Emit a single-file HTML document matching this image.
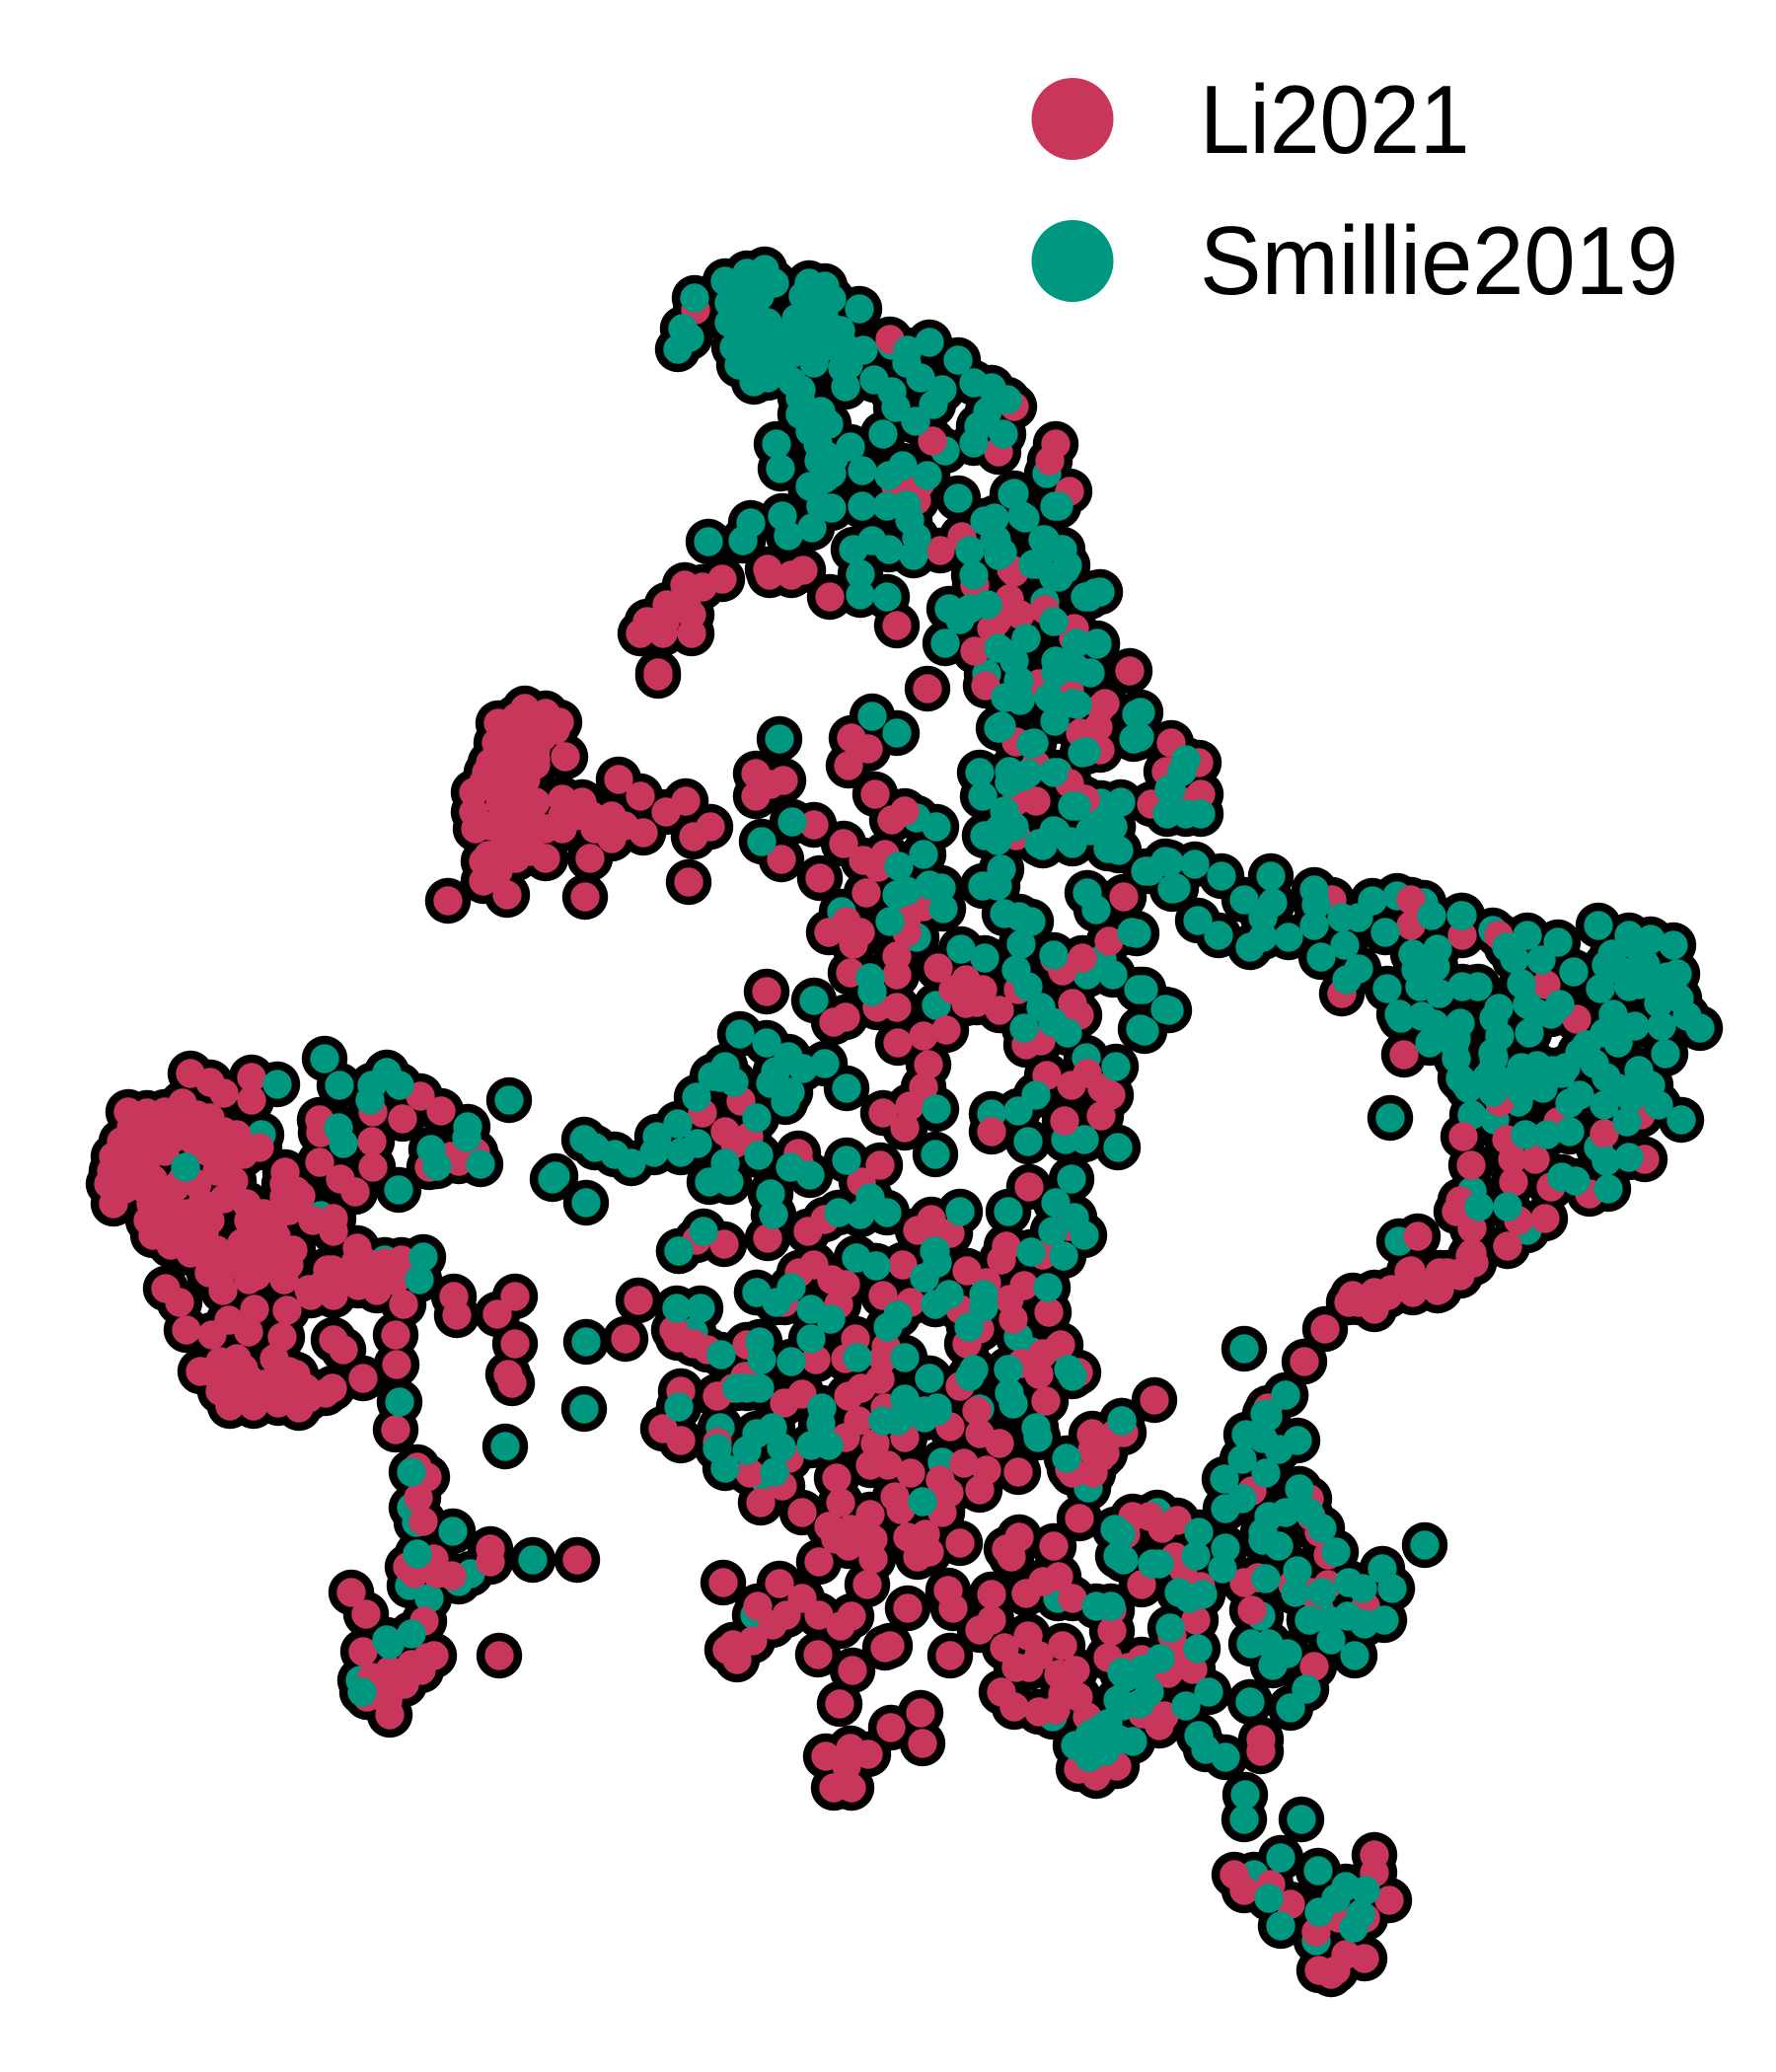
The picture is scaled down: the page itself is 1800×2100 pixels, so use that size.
<!DOCTYPE html>
<html lang="en">
<head>
<meta charset="utf-8">
<title>UMAP of cells by study</title>
<style>
html,body{margin:0;padding:0;background:#fff;width:1800px;height:2100px;overflow:hidden}
svg{display:block}
text{font-family:"Liberation Sans",Arial,sans-serif;fill:#000}
</style>
</head>
<body>
<svg id="chart" xmlns="http://www.w3.org/2000/svg" width="1800" height="2100" viewBox="0 0 1800 2100">
  <rect x="0" y="0" width="1800" height="2100" fill="#ffffff"/>
  <g id="outlines"></g>
  <g id="fills"></g>
  <g>
    <g>
      <circle cx="1087" cy="120.5" r="41.5" fill="#c8375b"/>
      <text transform="translate(1216,155) scale(0.99,1.07)" font-size="92">Li2021</text>
    </g>
    <g>
      <circle cx="1087" cy="264.5" r="41.5" fill="#009781"/>
      <text transform="translate(1216,298) scale(1.02,1.07)" font-size="92">Smillie2019</text>
    </g>
  </g>
</svg>
<script>
const seriesColors = ["#c8375b", "#009781"];

const smillieUnder = [[9.04,3.5],[9.58,4.57],[10.61,4.8],[10.59,6.1],[10,6.83],[9.29,8.29],[9.29,9.5],[8.53,9.24],[9.49,10.19],[11.02,9.88],[11.28,9.88],[11.17,9.72],[10.72,7.83],[11.1,8.15],[10.05,11.29],[11.01,10.72],[10.8,11.55],[10.99,11.55],
[2.65,11.5],[3.25,12.32],[3.9,12.77],[7.65,16.37],[7.03,13.5],[7.3,14.47],[7.77,15.03],[9.55,14.82],[10.32,13.55],[10.45,13.7],[10.73,13.65],[9.93,14.28],[11.03,15.08],
[13.03,14.14],[13.27,16.42],[12.78,16.38],[13.05,16.76],[11.41,17],[11.73,15.33],[12.71,19],[13.34,19.67],[10.72,16.2],[10.67,17.4],[4.17,15.28],[4.22,15.43],[4.15,16.07],[4.65,16.03],[4.77,15.95],[4.35,16.2],[3.65,17.03],
[12.88,8.88],[14.16,9.08],[14.43,9.15],[15.13,9.43],[14.92,11.3],[15.15,11.35],[15.39,11.17],[16.2,11.63],[14.92,12.07],[15.28,12.23],[15.48,12.47],[14.18,12.58],[11.16,8.14]];

const li2021 = [[7.05,3.14],[9.02,3.44],[9.45,4.47],[10.28,4.12],[10.12,4.58],[10.7,4.5],[10.64,4.67],[10.84,4.98],[9.29,5.07],[9.08,4.93],[9.33,4.9],[9.53,5.58],[9.75,5.44],[9.88,5.93],[10.28,5.8],[10.23,6.07],[10.59,6.18],[10.1,6.3],[10.34,6.23],[10.05,6.37],[10.89,6.37],[10.88,6.47],[9.88,6.6],[9.99,6.95],[11.45,6.8],[10.55,6.97],[10.84,7],[11.2,7.13],[9.4,6.98],
[7.32,5.87],[7.12,5.95],[6.94,5.93],[6.76,6.13],[6.96,6.13],[6.56,6.3],[6.74,6.3],[6.49,6.42],[6.72,6.42],[7.01,6.42],[7.01,6.23],[6.67,6.82],[7.78,5.77],[7.8,5.83],[8.02,5.83],[8.14,5.78],[8.41,6.05],[9.09,6.34],
[10.25,5.77],[10.53,6.93],[10.77,7],[11.16,7.17],[11.13,7.37],[10.95,7.43],[11.15,7.6],[10.3,7.52],[10.5,7.75],[10.84,7.94],[10.3,8.12],[10.5,8.12],[11,8.1],[10.3,8.47],[11.87,7.53],[12.15,7.73],[11.82,7.82],[12.17,8.05],[11.97,8.12],[11.67,8.15],
[7.66,7.84],[7.94,7.91],[7.66,8.07],[7.81,7.95],[8.63,7.48],[8.8,7.59],[8.6,7.76],[8.87,8.05],[9.04,8.31],[9.17,8.22],[8.25,8.36],[7.92,8.71],[8.31,8.9],[8.55,8.55],[8.75,8.72],[8.97,8.66],[8.9,8.79],[8.78,9.05],[9.19,9.31],[9.36,9.19],[9.19,9.45],[8.58,9.34],[8.4,9.45],[8.72,9.45],[8.65,9.57],[9.09,9.69],[9.09,9.88],[8.62,9.86],[8.89,10.21],[9.09,10.21],[7.77,10.05],[8.45,10.36],[8.57,10.31],[9.1,10.57],[9.36,10.5],[9.59,10.44],
[9.51,9.81],[9.79,9.93],[9.66,10.03],[9.96,10.03],[9.9,10.16],[10.13,10.24],[9.79,10.17],[11.39,9.09],[11.24,9.54],[10.69,9.72],[10.97,9.71],[10.77,9.84],[10.87,10.17],[10.94,10.29],[10.32,10.03],[10.55,10.55],[10.4,10.59],
[7.51,11.16],[7.12,11.28],[7.35,11.47],[7.59,11.52],[7.45,11.59],[8.95,11.28],[9.22,11.21],[9.17,11.43],[9.36,11.02],[9.41,10.79],[8.92,11.81],[8.73,11.98],[8.36,12.36],
[10.05,11.47],[10.61,10.9],[10.86,11],[11.02,10.88],[11.17,11.03],[11.26,11.1],[11.16,11.31],[10.79,11.36],[10.43,12.03],[8.09,11.69],[8.11,11.81],[9.44,12.36],
[7.06,12.57],[7.34,12.61],[6.47,13.18],[6.34,13.57],[6.87,13.56],[7.78,12.55],[8.19,12.48],[8.25,12.82],[8.43,12.97],[8.57,13.02],[9.15,12.82],[8.95,13.13],[9.23,13.2],[9.48,13.22],[9.73,13.27],[8.5,13.22],[8.1,12.9],[7.95,13.2],[10,13],[9.8,12.88],[10.15,12.77],[10.57,12.72],[10.83,12.43],[9.47,12.47],[9.3,12.47],[9.63,12.5],[10.38,13.03],[10.2,12.63],[10.57,13.72],[10.23,13.17],[10.27,13.37],[10.63,13.3],
[9.93,13.47],[9.8,13.62],[10.75,13.63],[10.93,13.91],[10.35,13.82],[10.53,13.93],[9.73,14.05],[10.6,14.2],[9.9,14.3],[9.93,14.53],[10.13,14.63],[9.63,14.46],
[10,14.9],[9.93,15.1],[10.32,14.92],[9.77,14.83],[9.53,15],[9.62,15.13],[9.55,15.33],[9.07,15.17],[9.13,15.3],[9.23,14.93],[9,14.85],[8.82,14.85],[9.2,15.58],[9.38,15.55],[9.42,15.73],[9.3,15.78],[9.73,15.64],
[8.87,14.63],[8.57,14.57],[8.98,13.65],[8.95,13.77],[8.6,14.15],[8.73,14.07],[8.92,13.98],[8.7,14.4],[9.17,14.57],[8.97,14.27],[8.57,13.77],[8.67,13.57],[8.27,13.78],[7.57,13.63],[6.83,13.48],[7.03,13.62],[7.17,13.68],[7.55,13.95],[7.43,14.07],[7.27,14.15],[7.95,14.22],[8.13,14.13],[6.9,14.1],[6.72,14.48],[6.9,14.6],[7.27,14.62],[7.6,14.93],[7.93,15.06],[7.71,15.23],[8,14.78],
[8.48,14.98],[8.52,15.23],[8.13,15.33],[8.82,15.35],[8.4,15.47],[8.62,15.5],[8.85,15.6],[8.3,15.83],[8.6,15.67],[8.85,15.8],[8.79,16.06],[8.47,15.6],
[10.2,15.7],[10.33,15.58],[10.25,15.78],[10.68,15.67],[10.94,15.39],[10.87,14.93],[11.07,14.53],[11.07,14.7],[11.2,14.73],[11.08,14.93],[11.3,14.53],
[7.33,16.04],[7.9,16.05],[7.68,16.28],[8.13,16.2],[8.3,16.37],[7.97,16.37],[7.83,16.47],[8.52,16.48],[8.63,16.38],[7.63,16.63],[7.43,16.67],[7.37,16.72],[7.47,16.82],[8.29,16.77],[8.64,16.93],[8.51,17.27],[8.97,16.7],[9.02,16.68],[9.2,16.3],[9.61,16.12],[9.66,16.3],[10.05,16.16],[10.05,16.42],[9.93,16.52],[9.63,16.78],
[9.33,17.36],[9.35,17.67],[9.03,17.51],[8.37,17.8],[8.62,17.72],[8.8,17.78],[8.58,17.9],[8.45,18.12],[8.63,18.12],
[10.4,16.15],[10.57,16.03],[10.73,15.98],[10.87,16.2],[10.18,16.7],[10.42,16.58],[10.53,16.78],[10.3,16.9],[10.43,16.9],[10.77,16.68],[10.9,16.93],[10.73,16.97],[10.15,17.15],[10.28,17.3],[10.53,17.35],[10.7,17.33],[10.77,17.17],[10.93,17.2],[11.02,17.4],[11.27,16.53],[11.23,16.8],[10.93,17.93],[11.11,18],[11.32,17.9],
[14.3,9.12],[13.5,9.12],[13.6,10.07],[14.3,9.38],[14.82,9.48],[15.19,9.48],[15.67,9.98],[15.98,10.33],[14.23,10.69],[15.2,11.17],[15.79,11.37],[16.63,11.3],
[14.83,11.52],[14.91,11.81],[15.27,11.55],[15.33,11.75],[15.56,11.75],[15.34,11.98],[15.72,12.03],[16.26,11.49],[16.67,11.75],[16.11,12.1],
[14.8,12.17],[14.76,12.28],[15.39,12.37],[15.66,12.35],[14.92,12.45],[15.28,12.63],[14.92,12.7],[14.94,12.8],[14.8,12.9],[14.59,12.9],[14.3,12.88],[14.59,13.07],[14.1,13.07],[13.93,13.1],[13.71,13.13],[14.35,13.03],[14.37,12.53],
[13.67,13.2],[13.77,13.2],[13.93,13.27],[14.07,13.13],[14.28,12.89],[14.32,13.1],[14.57,13.08],[14.67,12.9],[14.8,12.93],[14.9,12.73],[13.43,13.47],[13.22,13.8],[11.7,14.19],[12.85,14.27],[12.69,15.11],[13.37,15.53],[13.37,16.3],[13.29,16.14],
[13.29,15.37],[13.46,15.76],[13.27,15.19],[13.32,16.89],[11.84,16.96],[12.12,16.42],[12.02,16.76],[12.09,16.92],[11.88,16.58],[11.27,16.32],[11.57,16.82],[11.8,17.39],[11.75,17.49],[11.58,17.37],[11.44,16.9],[11.9,16.9],
[11.39,14.52],[11.06,14.54],[11.16,14.77],[11.07,14.91],[10.84,14.89],[11.41,15.55],[11.48,15.37],[11.65,15.37],[11.78,15.49],[11.93,15.41],[11.57,16.06],[11.99,15.9],[12.17,16.08],[11.91,15.78],
[12.75,15.99],[12.61,16.04],[13.46,16.06],[13.84,16.28],[12.69,16.32],[13.1,16.06],[12.78,17.63],[12.78,17.75],[12.51,19],[12.61,19.16],[12.88,19.1],[13.08,19.3],[13.57,19.44],[13.93,18.8],[13.93,18.98],[14.08,19.26],[13.84,19.44],[13.34,19.58],[13.64,19.81],[13.83,19.85],[13.37,19.97],[13.49,20.01],[13.54,19.97],
[1.93,10.88],[2.13,10.97],[2.27,11.08],[2.55,10.92],[2.55,11.15],[3.78,11.27],[4.08,11.34],[4.26,11.11],[4.47,11.26],[4.82,11.68],[4.65,11.77],[4.35,11.83],[4.57,11.72],[3.24,11.35],[3.25,11.48],[3.77,11.57],[3.24,11.78],[3.45,11.95],[3.78,11.83],[3.6,12.08],
[1.49,11.28],[1.85,11.18],[1.33,11.43],[1.63,11.43],[1.9,11.37],[2.13,11.33],[1.15,11.72],[1.4,11.65],[1.67,11.67],[1.97,11.57],[2.27,11.47],[1.1,12],[1.37,11.87],[1.15,12.2],[1.43,12.03],[1.78,12.03],[2.1,11.67],[2.33,11.67],[2.63,11.63],[2.2,11.87],[2.37,11.97],[2.27,12.15],[2.5,12.2],[1.53,12.2],[1.5,12.37],[1.55,12.52],[1.73,12.23],[1.77,12.43],[1.97,12.37],[2.07,12.5],[1.73,12.62],[1.93,12.7],[2.1,12.7],[2.12,12.9],[2.3,12.8],[2.47,12.8],[2.52,12.37],[2.67,12.3],[2.45,12.6],[2.67,12.53],[2.83,12.63],[2.77,12.83],[2.93,12.82],[2.88,12.97],[2.52,12.97],[2.26,13.08],
[2.89,11.88],[2.88,12.13],[3.05,12.12],[2.87,12.28],[3.17,12.37],[3.38,12.35],[3.38,12.48],
[1.68,13.06],[1.82,13.2],[1.89,13.48],[2.15,13.53],[2.32,13.38],[2.52,13.5],[2.58,13.27],[2.91,13.28],[2.86,13.55],[2.78,13.77],[2.03,13.9],[2.23,13.8],[2.4,13.77],[2.23,14.1],[2.53,13.98],[2.33,14.25],[2.57,14.25],[2.82,14.22],[3.03,14.27],[2.8,14],[3,13.93],[3.1,14.07],[3.3,14.12],[3.37,14.07],
[3.32,12.87],[3.27,13.02],[3.15,13.13],[3.38,13.13],[3.6,13],[3.62,12.65],[3.72,12.8],[3.82,13.08],[4,12.98],[4.07,12.77],[4.09,13.22],[4.01,13.53],[4.02,13.83],[4.01,14.49],[3.68,13.97],[3.38,13.58],[3.48,13.68],
[4.6,13.14],[4.63,13.33],[5.22,13.14],[5.04,13.32],[5.22,13.62],[5.15,13.93],[5.19,14.02],
[4.23,14.87],[4.33,14.97],[4.28,14.98],[4.24,15.18],[4.29,15.42],[4.97,15.7],[4.97,15.83],[5.85,15.81],[4.4,15.8],[4.13,15.88],[4.2,15.95],[4.43,15.95],[4.58,15.97],[4.3,16.43],[3.56,16.14],[3.71,16.36],[3.68,16.74],[3.77,17],[3.72,17.2],[3.95,16.93],[4.17,16.87],[4.33,16.8],[4.4,16.78],[4.27,16.93],[3.97,17.13],[4.1,17.07],[3.95,17.38],[3.93,17.25],[5.06,16.78],
[5.32,7.18],[5.05,7.33],[5.53,7.23],[5.67,7.32],[5.03,7.53],[5.3,7.4],[5.5,7.47],[5.73,7.67],[5.43,7.7],[4.93,7.83],[4.8,8.03],[5.1,7.9],[5.33,7.9],[4.8,8.23],[4.82,8.4],[5.07,8.13],[5.3,8.17],[5.07,8.37],[5.4,8.33],[5.7,8.1],[5.7,8.4],[5.53,8.4],[4.95,8.67],[5.13,8.6],[5.37,8.63],[5.53,8.7],[4.9,8.93],[5.05,8.83],[5.14,9.07],[4.54,9.13],[5.98,8.7],[5.93,9.09],[6.27,7.9],[6.49,8.07],[5.9,8.13],[6,8.27],[6.2,8.27],[6.33,8.37],[6.52,8.44],[6.2,8.5],[6.03,8.4],[6.75,8.23],[6.95,8.12],[7.2,8.38],[7.03,8.48],[6.98,8.94],[6.67,6.85],
[4.97,7.73],[4.9,7.93],[5.2,8],[5.2,8.2],[4.97,8.37],[5.23,8.47],[5.37,8.53],[5.43,8.13],[5.7,8.27],[5.83,8.27],[6.13,8.4],[5.43,7.6],[5.23,7.27],[5.17,7.43],[5.63,7.4],[5.07,8.63],[4.9,8.73],[5.23,8.7],[5.43,7.75],[5.27,7.6],[5.15,7.62],[5.2,7.78],
[1.23,11.57],[1.47,11.53],[1.77,11.53],[1.93,11.5],[1.23,11.87],[1.5,11.73],[1.13,11.87],[1.3,11.27],[1.67,11.27],[2,11.3],[2.2,11.53],[2.4,11.5],[2.47,11.7],[2.27,11.77],[1.57,12.2],[1.9,12.3],[2.13,12.37],[1.63,12.4],[1.9,12.53],[2.2,12.67],[2.23,12.93],[2.4,12.73],[2.6,12.57],[2.8,12.53],[2.6,12.4],[2.8,12.33],[2.93,12.27],[3,12.07],[2.88,12],[2.6,12.93],[2.73,12.73],[2.97,12.67],[3.13,13.07],[3.3,13.07],[3.47,13],[3.63,13.03],[3.8,13],[3.93,12.93],[3.9,12.8],[3.6,12.8],[3.37,12.87],[1.85,11.95],[2,12],[1.55,11.95],[1.27,12.05],[2.05,12.2],
[2.13,13.9],[2.3,13.93],[2.47,13.87],[2.67,14.03],[2.4,14.1],[2.73,14.13],[2.93,14.1],[3.13,14.17],[2.93,13.9]];

const smillieOver = [[7.04,3.02],[6.92,3.33],[6.99,3.42],[6.87,3.54],[7.35,2.85],[7.57,2.77],[7.75,2.73],[7.85,2.87],[7.64,2.93],[7.39,3.07],[7.39,3.27],[7.64,3.17],[7.78,3.27],[7.44,3.52],[7.49,3.7],[7.64,3.5],[7.64,3.87],[7.78,3.83],[7.75,3.57],[7.89,3.5],
[7.45,3],[7.55,3.3],[7.7,3],[7.5,3.4],[7.7,3.7],[7.85,3.7],[8,3.6],[8.15,3.55],[8.3,3.55],[8.4,3.3],[8.1,3.4],[8.35,3.15],[8.55,3.5],[8.6,3.7],[8.75,3.55],[8.12,3.95],[8.25,4.3],[8.4,4.3],[8.35,4.6],[8.45,4.65],[7.55,3.55],[7.65,3.35],
[8.2,2.87],[8.36,2.9],[8.43,3.03],[8.14,3],[8.07,3.23],[8.23,3.23],[8,3.4],[8.21,3.43],[8.52,3.35],[8.65,3.57],[8.5,3.53],[8.25,3.68],[8.54,3.73],[8.57,3.92],[8.03,3.87],[8.11,4.03],[8.32,4.17],[8.11,4.2],[8.21,4.37],[8.29,4.5],[8.3,4.67],[8.43,4.8],[8.36,4.85],[8.21,4.93],[7.87,4.5],[7.91,4.75],[8.71,3.13],
[9.42,3.47],[9.2,3.55],[9.71,3.65],[9.19,3.68],[9.33,3.83],[9.55,3.95],[8.86,3.85],[9.04,3.97],[9.46,4.1],[9.08,4.13],[9.28,4.27],[8.95,4.4],[9.87,3.88],[10.05,3.93],[10.21,4.05],[10.01,4.17],[9.92,4.32],[10.17,4.4],[9.87,4.49],[8.62,4.53],[8.74,4.77],[9.01,4.82],[9.15,4.72],[9.4,4.82],
[10.73,5.13],[10.28,5],[9.71,5.05],[10.39,5.25],[10.08,5.25],[9.98,5.28],[8.43,5.15],[8.32,5.13],[8.74,5.13],[8.99,5.13],[9.19,5.12],[9.22,5.27],[8.23,5.35],[7.93,5.23],[7.99,5.43],[7.61,5.3],[7.53,5.48],[7.18,5.49],
[8.65,5.57],[8.84,5.48],[9.01,5.57],[9.29,5.45],[9.26,5.63],[8.72,5.82],[8.72,6.03],[8.99,6.05],[9.62,6.17],[9.83,6.17],[9.73,6.28],[9.58,6.52],[10.01,6.13],[9.83,5.58],[10.1,5.47],[10.16,5.6],[9.87,5.83],[10.59,5.47],[10.77,5.57],[10.52,5.72],[10.82,5.73],[10.73,5.85],[11.04,6.05],[11.15,6],[10.12,6.57],[10.26,6.63],[10.32,6.9],[10.19,7.07],[10.34,7.1],
[10.26,5.01],[10.69,5.13],[11.36,8.13],[11.28,8.38],
[10.36,5.23],[10.08,5.47],[10.12,5.63],[10.57,5.47],[10.75,5.57],[10.47,5.72],[10.8,5.77],[10.68,5.85],[11,6.05],[11.1,6.01],[10.68,6.3],[10.91,6.52],[11.12,6.53],[10.7,6.7],[10.7,6.82],[11.05,6.82],[10.9,6.77],[11.12,6.52],[10.63,7.07],[10.88,7.13],[11.52,7.24],[11.49,7.49],
[10.4,6.47],[10.28,6.7],[10.33,6.9],[10.13,7.38],[10.45,7.54],[10.97,7.63],[10.68,7.83],[10.12,7.38],[10.23,7.82],[10.37,7.87],[10.23,7.93],[10.87,8.17],[11.23,8.38],[10.68,8.42],[10.53,8.55],[10.85,8.53],[11.28,8.6],[11.23,8.6],[10.13,8.4],[11.05,8.42],
[12.02,7.7],[11.98,7.82],[11.87,8],[11.83,8.25],[12.17,8.25],
[7.9,7.49],[8.84,7.26],[9.09,7.43],[8.03,8.33],[7.72,8.53],[9.49,8.38],[9.11,8.78],[9.36,8.66],[9.42,8.97],[9.19,9.03],[9.09,9.07],[9.54,9],[9.56,9.21],[9.02,9.34],[8.82,9.91],[8.84,10.05],[8.25,10.14],[9.74,9.62],[9.98,9.71],
[9.93,7.83],[9.96,8.07],[10.15,7.36],[10.69,7.31],[10.48,7.53],[10.92,7.14],[11.01,7.62],[11.56,7.22],[11.55,7.47],[10.27,7.9],[10.42,7.84],[10.91,8.17],[10.18,8.22],[10.15,8.38],[9.98,8.47],[10.11,8.52],[10.28,8.38],[10.7,8.43],[10.57,8.57],[10.87,8.55],[11.28,8.38],[11.34,8.62],[10.15,8.81],[9.96,8.98],[10.11,8.98],[11.65,8.83],[11.85,8.74],[11.92,9],
[11.02,9.05],[11.11,9.22],[11.52,9.46],[10.35,9.57],[10.33,9.29],[10.18,9.26],[10.45,9.34],[10.3,9.83],[10.42,10],[10.55,10.21],[10.38,10.42],[10.82,10.47],[10.67,10.36],[11.59,10.03],[11.85,10.24],[11.6,10.45],
[7.5,10.48],[7.77,10.57],[7.99,10.71],[8.14,10.83],[8.36,10.78],[8.58,11.03],[7.35,10.81],[7.22,10.91],[7.44,10.97],[7.86,10.86],[7.81,10.98],[8.01,11.07],[7.96,11.17],[7.67,11.33],[7.07,11.59],[9.49,11.24],[9.48,11.7],[10.32,11.26],[10.5,11.1],[10.42,11.57],[11.31,10.81],[11.33,11.63],
[10.86,11.95],[10.7,12.19],[10.89,12.34],[9.73,12.28],[10.22,12.28],[8.58,11.76],[8.82,12.14],[8.5,12.29],[8.72,12.31],[8.99,12.29],[8.01,11.83],[8.21,11.91],[7.81,12.1],[7.84,12.31],[7.39,11.98],[7.35,11.79],[7.69,11.71],[7.19,11.98],
[5.63,11.92],[5.92,11.55],[6.03,11.63],[5.94,12.19],[6.23,11.7],[6.4,11.79],[6.63,11.68],[6.66,11.52],[6.87,11.39],[7.06,11.12],[7.3,10.92],[6.9,11.68],
[6.88,12.68],[7.13,12.48],[7.67,13.1],[7.87,13.2],[8.02,13.05],[8.22,13.27],[8.42,13.37],[8.68,12.75],[8.88,12.83],[9.47,12.68],[9.5,12.8],[9.37,12.95],[9.48,13.22],[9.62,13.12],[9.0,13.45],[9.1,13.33],[9.97,13.25],[9.82,13.45],
[10.45,12.69],[10.78,12.73],[10.67,12.48],[10.99,12.52],[10.62,13.05],[10.22,13.88],[10.23,14.12],[10.27,14.23],[10.5,14.47],[10.52,14.57],[9.87,13.88],[9.83,13.95],
[8.69,13.76],[8.22,13.57],[8.02,13.8],[7.7,13.6],[7.72,13.78],[7.31,13.73],[6.88,14.26],[7.47,14.07],[7.57,14.07],[7.7,14.07],[7.83,14.47],[7.67,14.53],[7.27,14.68],[7.57,14.7],[7.92,14.67],[7.35,14.88],[8.33,14.27],[8.32,14.43],[8.22,14.65],[8.4,14.65],[7.85,14.92],[9.35,15.22],
[9.17,14.18],[9.42,13.97],[8.95,14.4],[9.1,14.4],[9.27,14.3],[9.5,14.27],[9.37,14.37],[10.81,14.78],[11.37,14.4],[11.3,15.5],[11.33,15.77],
[12.61,13.67],[13.27,16.42],[14.09,11.33],
[11.61,8.83],[11.81,8.73],[12.11,8.76],[11.88,9.01],[12.38,8.88],[12.61,9.12],[12.9,9.15],[12.8,9.3],[13.06,9.5],[12.14,9.33],[12.35,9.48],[12.67,9.6],[12.8,9.5],[13.39,9.7],[13.32,9.02],[13.34,9.17],[13.32,9.38],[13.6,9.3],[13.77,9.3],[13.91,9.13],[14.51,9.28],[14.81,9.28],[14.82,9.28],[15.48,9.48],[15.79,9.55],[14.04,9.45],[13.63,9.58],[13.77,9.82],[13.65,9.93],
[14.32,9.67],[14.57,9.62],[14.35,9.83],[14.55,9.8],[14.06,10.02],[14.39,10],[14.59,10.07],[14.82,10],[14.98,10],[14.18,10.28],[14.41,10.3],[14.8,10.37],[14.49,10.57],[14.76,10.53],[14.76,10.73],[14.84,10.97],[14.88,11.03],[15.11,10.87],[15.13,10.67],[15.2,10.5],[15.19,10.22],[15.35,9.72],[15.27,9.6],[15.42,9.97],[15.58,10.27],[15.72,10.28],[15.5,10.47],[15.62,9.73],
[14.2,10.32],[14.54,10.38],[14.74,10.59],[15.07,10.92],[15.41,10.99],[15.74,10.85],[16.08,10.59],[16.41,10.38],[16.61,9.98],[16.28,9.78],[16.68,9.78],[15.81,10.18],[15.48,10.18],[15.14,10.32],[15.14,10.72],
[15.95,9.85],[16.2,9.38],[16.51,9.48],[16.73,9.52],[16.96,9.58],[16.34,9.67],[16.65,9.73],[17,9.87],[16.22,10.02],[16.51,10],[16.77,9.93],[17.02,10.12],[16.81,10.17],[17.23,10.42],[16.84,10.4],[16.57,10.4],[16.26,10.47],[16.35,10.28],[16.88,10.68],[16.01,10.67],[16.4,10.57],[15.87,10.82],[16.16,10.78],[16.28,10.92],[16.61,10.85],[16.73,11],[16.4,11.03],[16.01,11.1],[16.26,11.2],[16.81,11.2],[17.04,11.35],[16.53,11.13],[16.49,11.37],[17,10.1],[17.1,10.3],[16.6,9.6],[16.9,9.9],[16.45,9.85],
[15.42,10.82],[15.58,10.8],[15.42,11.07],[15.64,11.03],[15.91,11.18],[15.83,10.88],[14.8,10.93],[15.17,10.93],[15.13,11.07],[15.46,11.5],[15.68,11.5],[15.91,11.47],[16.28,11.77],[16.51,11.73],[16.3,12.05],[15.97,11.97],[15.83,11.93],[14.99,12.23],[15.28,12.23],
[11.47,9.45],[11.54,10.03],[11.81,10.23],[11.56,10.43],[11.85,8.0],[12.02,8.25],[10.68,9.68],
[13.03,14.14],[12.85,14.36],[12.82,14.33],[13.15,14.6],[12.63,14.54],[12.8,14.58],[12.59,14.79],[12.96,14.69],[12.83,14.93],[12.41,14.99],[12.42,15.29],[12.59,15.19],[13.17,15.09],[12.86,15.37],[12.8,15.53],[13.03,15.33],[13.27,15.33],[13.4,15.49],[13.54,15.73],[12.96,15.67],[12.8,15.61],
[12.42,15.69],[12.39,15.9],[12.15,15.53],[12.12,15.77],[12.83,16],[13.15,15.92],[13.13,16.14],[13.4,16.14],[13.67,16.04],[13.81,16.1],[14.01,15.9],[14.11,16.1],[13.47,16.42],[13.66,16.38],[13.83,16.46],[14.03,16.42],[13.49,16.62],[13.73,16.78],[14.44,15.66],
[12.68,16.66],[12.86,16.66],[12.9,16.88],[12.67,17.25],[13.24,17.12],[13.08,17.31],[12.15,17.59],[12.22,17.73],[12.42,17.81],[12.62,18.19],
[12.02,17.29],[12.25,17.15],[11.65,17.15],[11.55,17.27],[11.38,17.29],[11.58,16.92],[11.76,16.81],[11.86,16.5],[12.14,16.71],[11.68,15.85],[11.75,15.85],[11.39,15.81],[11.36,15.55],[12.05,16.2],[12.19,16.16],[11.95,16.14],[11.11,16.28],[11.26,16.28],
[10.9,17.69],[11.04,17.59],[11.17,17.51],[11.34,17.63],[11.48,17.65],[11.04,17.81],[11.02,17.63],[11.23,17.47],[11.07,17.57],[11.2,17.75],[11.33,17.23],[11.37,16.95],
[12.61,18.44],[12.98,18.83],[13.19,18.44],[13.36,18.96],[12.86,19.24],[12.98,19.52],[13.64,19.12],[13.84,19.16],[13.37,19.38],[13.54,19.24],[13.79,19.4],[13.72,19.54],
[6.88,12.68],[7.67,13.1],[8.68,12.75],[8.88,12.83],[9.48,12.68],[9.5,12.8],[9.37,12.95],[9.97,13.12],[10.45,12.69],[10.78,12.73],[10.67,12.48],
[9.17,13.76],[9.42,13.97],[9.1,14.4],[9.5,14.27],[9.37,14.3],[9.27,14.3],[9.5,14.3],[10.22,13.88],[10.83,13.88],[10.87,13.95],[11.37,14.4],
[3.29,10.73],[3.44,11],[2.81,10.99],[3.92,10.87],[3.77,11],[4.05,11],[3.75,11.15],[4.74,11.42],[4.73,11.53],[4.37,11.65],[4.87,11.8],[4.43,11.82],[5.16,11.15],[5.6,11.95],[1.88,11.83],[3.43,11.43],[3.48,11.59],[4.04,12.06],[4.29,12.74],[4.25,12.97],[4.05,14.21],
[4.17,14.92],[5.12,14.66],[5.92,14.28],[5.94,13.6],[5.4,15.81],[4.59,15.52],[4.23,15.75],[3.92,16.62],[3.95,16.67],[3.67,17.15],[4.17,16.56],
[6.86,13.26],[7.1,13.26]];

const xDomain = [0, 18];
const yDomain = [0, 21];
const plotWidth = 1800;
const plotHeight = 2100;
const outlineRadius = 23.2;
const fillRadius = 14.7;

function xScale(v) {
  return (v - xDomain[0]) / (xDomain[1] - xDomain[0]) * plotWidth;
}
function yScale(v) {
  return (v - yDomain[0]) / (yDomain[1] - yDomain[0]) * plotHeight;
}

const SVG_NS = "http://www.w3.org/2000/svg";
const outlineLayer = document.getElementById("outlines");
const fillLayer = document.getElementById("fills");

function drawOutlines(points) {
  points.forEach(function (p) {
    const el = document.createElementNS(SVG_NS, "circle");
    
    
    el.setAttribute("cx", xScale(p[0]));
    el.setAttribute("cy", yScale(p[1]));
    el.setAttribute("r", outlineRadius);
    el.setAttribute("fill", "#000000");
    outlineLayer.appendChild(el);
  });
}
function drawFills(points, color, label) {
  points.forEach(function (p) {
    const el = document.createElementNS(SVG_NS, "circle");
    
    
    el.setAttribute("cx", xScale(p[0]));
    el.setAttribute("cy", yScale(p[1]));
    el.setAttribute("r", fillRadius);
    el.setAttribute("fill", color);
    fillLayer.appendChild(el);
  });
}

drawOutlines(smillieUnder);
drawOutlines(li2021);
drawOutlines(smillieOver);
drawFills(smillieUnder, seriesColors[1], "point-smillie2019");
drawFills(li2021, seriesColors[0], "point-li2021");
drawFills(smillieOver, seriesColors[1], "point-smillie2019");
</script>
</body>
</html>
